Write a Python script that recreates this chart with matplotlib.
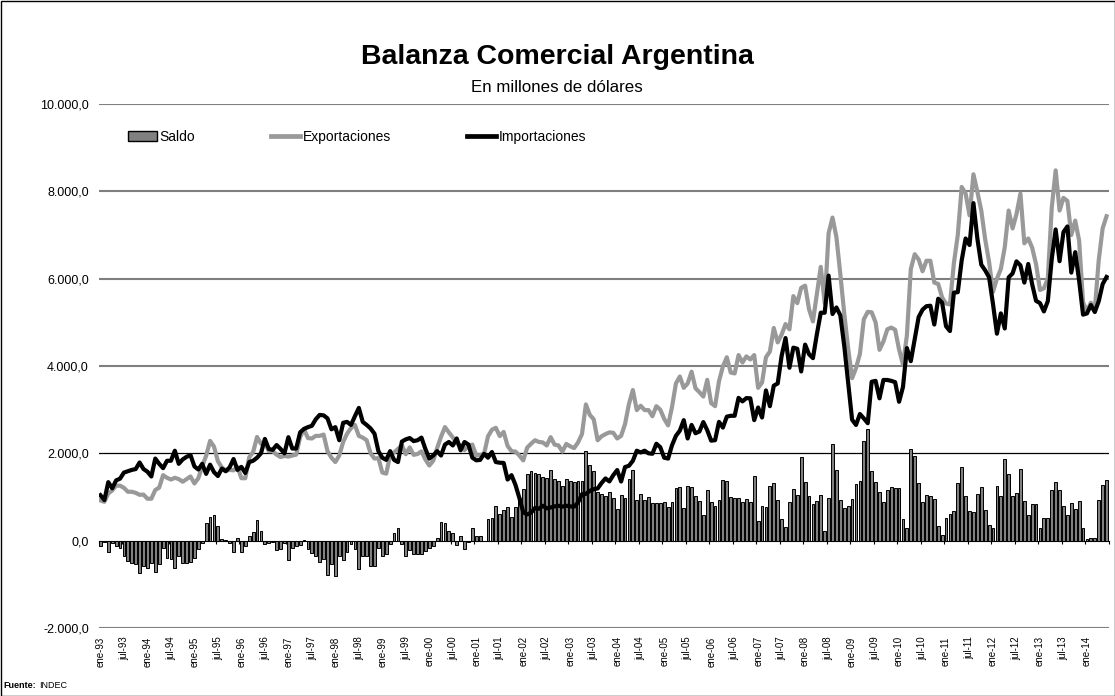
import matplotlib
matplotlib.use('Agg')
import matplotlib.pyplot as plt
from matplotlib.patches import Patch, Rectangle
from matplotlib.lines import Line2D
from matplotlib.ticker import FuncFormatter
import numpy as np

plt.rcParams['font.family'] = ['Liberation Sans', 'DejaVu Sans']

meses = ['ene', 'feb', 'mar', 'abr', 'may', 'jun', 'jul', 'ago', 'sep', 'oct', 'nov', 'dic']
periodos = [f"{m}-{a % 100:02d}" for a in range(1993, 2015) for m in meses][:258]

exportaciones = [
    920, 890, 1080, 1150, 1260, 1260, 1210, 1120, 1120, 1095, 1050, 1055,
    960, 960, 1160, 1215, 1500, 1440, 1400, 1440, 1410, 1350, 1410, 1470,
    1310, 1430, 1710, 1945, 2285, 2155, 1820, 1680, 1605, 1620, 1610, 1690,
    1430, 1430, 1910, 2030, 2375, 2220, 2255, 2050, 2050, 1970, 1915, 1940,
    1925, 1950, 1970, 2370, 2550, 2350, 2340, 2400, 2400, 2430, 2050, 1900,
    1800, 1950, 2260, 2450, 2580, 2650, 2400, 2360, 2300, 2000, 1880, 1890,
    1560, 1535, 1960, 2020, 2100, 2185, 1980, 2135, 1965, 1985, 2045, 1860,
    1720, 1830, 2120, 2380, 2600, 2480, 2365, 2230, 2180, 2075, 2170, 2200,
    1950, 1960, 1990, 2390, 2540, 2585, 2395, 2490, 2170, 2050, 2040, 1950,
    1838, 2130, 2220, 2300, 2260, 2250, 2180, 2370, 2200, 2180, 2040, 2215,
    2160, 2120, 2250, 2440, 3120, 2880, 2780, 2300, 2390, 2440, 2480, 2470,
    2340, 2400, 2670, 3130, 3450, 2990, 3090, 2990, 2990, 2850, 3080, 3000,
    2790, 2640, 3060, 3600, 3760, 3500, 3600, 3870, 3490, 3400, 3300, 3683,
    3150, 3080, 3650, 3990, 4200, 3850, 3830, 4250, 4080, 4220, 4150, 4250,
    3500, 3620, 4200, 4330, 4870, 4540, 4720, 4960, 4840, 5600, 5440, 5790,
    5840, 5300, 5020, 5640, 6270, 5440, 7040, 7400, 6950, 6100, 5200, 4400,
    3720, 3950, 4280, 5070, 5240, 5230, 5000, 4370, 4560, 4840, 4880, 4830,
    4380, 4030, 4700, 6220, 6560, 6440, 6170, 6410, 6410, 5910, 5880, 5570,
    5430, 5410, 6350, 7000, 8100, 7950, 7450, 8390, 7990, 7560, 6900, 6380,
    5700, 6000, 6220, 6720, 7560, 7150, 7480, 7950, 6810, 6920, 6710, 6330,
    5740, 5780, 6000, 7620, 8480, 7560, 7850, 7780, 7000, 7330, 6870, 5460,
    5250, 5450, 5290, 6420, 7150, 7430,
]

importaciones = [
    1040, 930, 1340, 1200, 1380, 1420, 1560, 1590, 1620, 1640, 1790, 1640,
    1580, 1470, 1880, 1760, 1660, 1830, 1830, 2060, 1760, 1860, 1920, 1960,
    1700, 1630, 1760, 1530, 1740, 1570, 1480, 1650, 1590, 1680, 1870, 1620,
    1690, 1550, 1800, 1830, 1900, 2000, 2330, 2100, 2080, 2190, 2100, 2000,
    2370, 2110, 2110, 2480, 2560, 2600, 2630, 2780, 2880, 2870, 2800, 2550,
    2600, 2300, 2700, 2720, 2650, 2850, 3040, 2720, 2650, 2570, 2450, 2050,
    1900, 1850, 2050, 1850, 1800, 2270, 2320, 2350, 2280, 2300, 2360, 2100,
    1880, 1950, 2050, 1950, 2200, 2260, 2180, 2340, 2070, 2260, 2200, 1900,
    1840, 1850, 1990, 1900, 2030, 1800, 1785, 1780, 1400, 1500, 1280, 980,
    650, 600, 640, 750, 730, 800, 740, 760, 785, 800, 780, 800,
    785, 780, 875, 1065, 1070, 1140, 1180, 1195, 1320, 1425, 1357, 1500,
    1617, 1354, 1686, 1715, 1830, 2060, 2020, 2060, 2000, 1990, 2220, 2140,
    1900, 1880, 2185, 2400, 2520, 2760, 2340, 2650, 2460, 2500, 2716, 2530,
    2290, 2300, 2720, 2590, 2840, 2860, 2860, 3270, 3190, 3265, 3260, 2760,
    3050, 2820, 3440, 3080, 3550, 3600, 4230, 4640, 3960, 4420, 4395, 3875,
    4490, 4270, 4180, 4725, 5220, 5220, 6070, 5190, 5340, 5160, 4460, 3610,
    2770, 2650, 2900, 2800, 2690, 3640, 3660, 3260, 3680, 3680, 3660, 3630,
    3180, 3520, 4410, 4110, 4620, 5120, 5290, 5370, 5380, 4950, 5540, 5450,
    4910, 4800, 5680, 5690, 6420, 6920, 6770, 7730, 6920, 6320, 6190, 6030,
    5416, 4740, 5205, 4860, 6030, 6120, 6396, 6305, 5910, 6336, 5872, 5492,
    5440, 5250, 5485, 6451, 7127, 6400, 7066, 7196, 6139, 6607, 5955, 5176,
    5204, 5396, 5236, 5482, 5874, 6038,
]

saldo = [
    -120, -40, -260, -50, -120, -160, -350, -470, -500, -545, -740, -585,
    -620, -510, -720, -545, -160, -390, -430, -620, -350, -510, -510, -490,
    -390, -200, -50, 415, 545, 585, 340, 30, 15, -60, -260, 70,
    -260, -120, 110, 200, 475, 220, -75, -50, -30, -220, -185, -60,
    -445, -160, -130, -95, 10, -185, -280, -350, -490, -430, -775, -545,
    -800, -350, -445, -260, -70, -200, -660, -350, -350, -570, -570, -160,
    -340, -315, -85, 170, 300, -85, -340, -215, -315, -315, -315, -240,
    -160, -120, 70, 430, 400, 220, 185, -110, 110, -185, -30, 300,
    110, 110, 0, 490, 510, 785, 610, 710, 777, 553, 761, 969,
    1184, 1530, 1584, 1553, 1530, 1453, 1438, 1607, 1415, 1376, 1261, 1415,
    1376, 1338, 1376, 1376, 2053, 1738, 1600, 1107, 1069, 1015, 1123, 969,
    723, 1046, 984, 1415, 1622, 930, 1069, 930, 992, 861, 861, 861,
    892, 761, 877, 1199, 1238, 738, 1261, 1222, 1030, 900, 584, 1161,
    877, 784, 938, 1399, 1361, 992, 977, 977, 892, 954, 892, 1492,
    454, 800, 761, 1246, 1323, 938, 492, 323, 877, 1184, 1046, 1915,
    1353, 1030, 838, 915, 1046, 223, 969, 2207, 1607, 938, 738, 784,
    954, 1300, 1376, 2276, 2553, 1592, 1338, 1107, 877, 1161, 1222, 1199,
    1199, 507, 292, 2107, 1938, 1323, 877, 1046, 1030, 954, 338, 123,
    515, 607, 669, 1315, 1684, 1030, 684, 661, 1069, 1238, 707, 353,
    284, 1261, 1015, 1861, 1530, 1030, 1084, 1645, 900, 584, 838, 838,
    300, 530, 515, 1169, 1353, 1161, 784, 584, 861, 723, 915, 284,
    46, 54, 54, 938, 1276, 1392,
]

W, H = 1115, 696
fig = plt.figure(figsize=(W / 100, H / 100), dpi=100)
ax = fig.add_axes([98.5 / W, 68 / H, 1010 / W, 524 / H])

x = np.arange(len(periodos))
ax.bar(x, saldo, width=0.72, color='#808080', edgecolor='black', linewidth=0.7, zorder=3)
ax.plot(x, exportaciones, color='#999999', lw=3.0, zorder=4, solid_joinstyle='round')
ax.plot(x, importaciones, color='black', lw=3.0, zorder=5, solid_joinstyle='round')

ax.set_xlim(-0.5, len(x) - 0.5)
ax.set_ylim(-2000, 10000)
yt = list(range(-2000, 10001, 2000))
ax.set_yticks(yt)
ax.yaxis.set_major_formatter(FuncFormatter(
    lambda v, p: f"{v:,.1f}".replace(',', 'X').replace('.', ',').replace('X', '.')))
ax.tick_params(axis='y', length=0, pad=7, labelsize=9)

ax.grid(axis='y', color='#7f7f7f', lw=1.5, zorder=1)
for gl, t in zip(ax.get_ygridlines(), yt):
    if t == 0:
        gl.set_visible(False)
    elif t == 2000:
        gl.set_color('black')
        gl.set_linewidth(0.9)

for s in ['left', 'right', 'top']:
    ax.spines[s].set_visible(False)
ax.spines['bottom'].set_position(('data', 0))
ax.spines['bottom'].set_linewidth(0.8)
ax.spines['bottom'].set_zorder(2)
ax.set_xticks(np.arange(-0.5, len(x), 6))
ax.tick_params(axis='x', direction='out', length=2.5, width=0.8, labelbottom=False)

sec = ax.secondary_xaxis(0.0)
pos = list(range(0, len(x), 6))
sec.set_xticks(pos, labels=[periodos[i] for i in pos], rotation=90)
sec.tick_params(length=0, pad=6, labelsize=7)
sec.spines['bottom'].set_visible(False)

handles = [Patch(facecolor='#808080', edgecolor='black', linewidth=1),
           Line2D([], [], color='#999999', lw=3.4),
           Line2D([], [], color='black', lw=3.4)]
fig.legend(handles, ['Saldo', 'Exportaciones', 'Importaciones'],
           loc='center left', bbox_to_anchor=(128 / W, 1 - 137 / H),
           ncol=3, frameon=False, fontsize=10, borderpad=0, borderaxespad=0,
           handlelength=2.1, handleheight=0.7, handletextpad=0.15, columnspacing=5.5)

fig.text(0.4996, 1 - 57 / H, 'Balanza Comercial Argentina', ha='center', va='center',
         fontsize=20.5, fontweight='bold')
fig.text(0.4996, 1 - 87 / H, 'En millones de dólares', ha='center', va='center', fontsize=12.2)

t1 = fig.text(3 / W, 1 - 686 / H, 'Fuente:', ha='left', va='center', fontsize=6.5, fontweight='bold')
fig.canvas.draw()
bb = t1.get_window_extent(renderer=fig.canvas.get_renderer())
fig.text((bb.x1 + 3) / W, 1 - 686 / H, 'INDEC', ha='left', va='center', fontsize=6.5)

fig.patches.append(Rectangle((0.5 / W, 0.5 / H), 1 - 1 / W, 1 - 1 / H, transform=fig.transFigure,
                             fill=False, edgecolor='black', linewidth=1))

fig.savefig('out.png', dpi=100)
